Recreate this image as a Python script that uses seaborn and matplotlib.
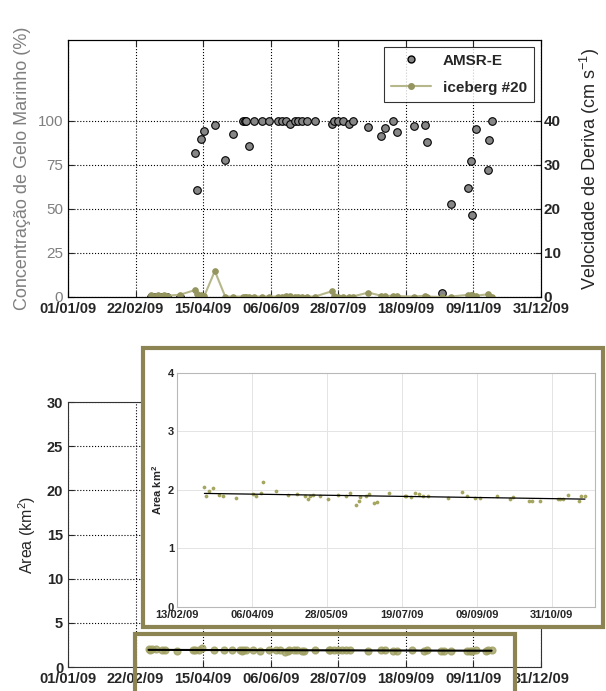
import numpy as np
import pandas as pd
import matplotlib
matplotlib.use('Agg')
import matplotlib.pyplot as plt
import matplotlib.dates as mdates
from matplotlib.patches import Rectangle
from matplotlib.lines import Line2D
import seaborn as sns

sns.set_style('white')
plt.rcParams['font.family'] = ['Liberation Sans', 'DejaVu Sans']
plt.rcParams['mathtext.default'] = 'regular'

# dias contados a partir de 01/01/09
dias = [64, 67, 69, 72, 74, 76, 86, 98, 99, 102, 105, 113, 121, 127, 135, 136, 137,
        139, 143, 149, 155, 162, 165, 168, 171, 175, 177, 180, 184, 190, 203, 205,
        208, 212, 216, 219, 231, 241, 244, 250, 253, 266, 275, 276, 288, 295, 308,
        310, 311, 314, 323, 324, 326]
conc = [0, 0, 0, 0, 0, 0, 0, 82, 61, 90, 94.5, 97.5, 78, 92.5, 100, 100, 100,
        86, 100, 100, 100, 100, 100, 100, 98, 100, 100, 100, 100, 100, 98, 100,
        100, 100, 98, 100, 96.5, 91.5, 96, 100, 94, 97, 97.5, 88, 2.5, 53, 62,
        77, 46.5, 95.5, 72, 89, 100]
vel = [0.5, 0.3, 0.5, 0.3, 0.5, 0.3, 0.5, 1.6, 0.6, 0.5, 0.3, 5.9, 0.1, 0.1, 0.1, 0.1, 0.1,
       0.1, 0.1, 0.1, 0.1, 0.1, 0.1, 0.2, 0.3, 0.1, 0.1, 0.1, 0.1, 0.1, 1.3, 0.2,
       0.1, 0.1, 0.1, 0.1, 1.0, 0.3, 0.2, 0.3, 0.2, 0.1, 0.3, 0.1, 0.0, 0.1, 0.5,
       0.5, 0.4, 0.3, 0.6, 0.2, 0.1]

dias_area = [62, 63, 65, 68, 72, 75, 84, 96, 98, 101, 103, 112, 120, 126, 132, 134, 135,
             137, 142, 148, 155, 160, 163, 167, 169, 170, 174, 176, 180, 182, 190, 201,
             202, 205, 208, 211, 214, 217, 231, 241, 244, 250, 253, 265, 274, 276, 287,
             289, 295, 307, 309, 311, 314, 322, 323, 326]
area = [2.05, 1.89, 1.99, 2.03, 1.91, 1.89, 1.86, 1.93, 1.90, 1.94, 2.14, 1.98, 1.92, 1.93,
        1.90, 1.84, 1.90, 1.91, 1.89, 1.85, 1.91, 1.89, 1.94, 1.75, 1.82, 1.88, 1.90, 1.93,
        1.78, 1.79, 1.94, 1.90, 1.90, 1.88, 1.95, 1.93, 1.89, 1.89, 1.86, 1.96, 1.90, 1.86,
        1.86, 1.90, 1.85, 1.88, 1.82, 1.81, 1.82, 1.85, 1.85, 1.85, 1.91, 1.82, 1.90, 1.89]

x0 = mdates.date2num(pd.Timestamp('2009-01-01'))
ticks_ano = x0 + np.arange(0, 365, 52)
fmt = mdates.DateFormatter('%d/%m/%y')

cinza = '#7f7f7f'
oliva_linha = '#b7b78c'
oliva_ponto = '#959560'
moldura = '#8c8452'

df_top = pd.DataFrame({'data': x0 + np.array(dias), 'conc': conc, 'vel': vel})
df_area = pd.DataFrame({'data': x0 + np.array(dias_area), 'area': area})

fig = plt.figure(figsize=(6.06, 6.91), dpi=100)

# ---- painel de cima: concentracao + velocidade
ax1 = fig.add_axes([0.1122, 0.5702, 0.7805, 0.3719])
sns.scatterplot(data=df_top, x='data', y='conc', ax=ax1, color='#868686',
                edgecolor='black', linewidth=0.8, s=30, legend=False, zorder=3)
ax1.set_xlim(x0, x0 + 364)
ax1.set_ylim(0, 146)
ax1.set_yticks([0, 25, 50, 75, 100])
ax1.set_xticks(ticks_ano)
ax1.xaxis.set_major_formatter(fmt)
ax1.grid(True, linestyle=':', color='black', lw=0.8)
ax1.set_xlabel('')
ax1.set_ylabel('Concentração de Gelo Marinho (%)', color=cinza, fontsize=13, labelpad=5)
ax1.tick_params(axis='y', labelcolor=cinza, labelsize=11, direction='in', length=4, left=True)
ax1.tick_params(axis='x', labelsize=10.5, direction='in', length=4, bottom=True, top=True)
for lbl in ax1.get_xticklabels():
    lbl.set_fontweight('bold')

ax2 = ax1.twinx()
sns.lineplot(data=df_top, x='data', y='vel', ax=ax2, color=oliva_linha, lw=1.5,
             marker='o', markersize=4, markerfacecolor=oliva_ponto,
             markeredgecolor=oliva_ponto, legend=False)
ax2.set_ylim(0, 58.4)
ax2.set_yticks([0, 10, 20, 30, 40])
ax2.set_ylabel('Velocidade de Deriva (cm s$^{-1}$)', fontsize=13, labelpad=12)
ax2.tick_params(axis='y', labelsize=11, direction='in', length=4, right=True, pad=2)
for lbl in ax2.get_yticklabels():
    lbl.set_fontweight('bold')
for ax in (ax1, ax2):
    for sp in ax.spines.values():
        sp.set_color('black')
        sp.set_linewidth(0.8)

handles = [Line2D([], [], ls='none', marker='o', color='#868686', markeredgecolor='black', markersize=5),
           Line2D([], [], color=oliva_linha, lw=1.5, marker='o', markersize=4,
                  markerfacecolor=oliva_ponto, markeredgecolor=oliva_ponto)]
leg = ax2.legend(handles, ['AMSR-E', 'iceberg #20'], loc='upper right', frameon=True,
                 fancybox=False, edgecolor='black', prop={'weight': 'bold', 'size': 11},
                 borderaxespad=0.45, handlelength=2.6, labelspacing=0.85, borderpad=0.45)
leg.get_frame().set_linewidth(0.8)

# ---- painel de baixo: area
ax3 = fig.add_axes([0.1122, 0.0347, 0.7805, 0.3835])
sns.regplot(data=df_area, x='data', y='area', ax=ax3, ci=None,
            scatter_kws=dict(s=24, color='#a1a164', zorder=3),
            line_kws=dict(color='black', lw=1.5, zorder=4))
ax3.set_xlim(x0, x0 + 364)
ax3.set_ylim(0, 30)
ax3.set_yticks(np.arange(0, 31, 5))
ax3.set_xticks(ticks_ano)
ax3.xaxis.set_major_formatter(fmt)
ax3.grid(True, linestyle=':', color='black', lw=0.8)
ax3.set_xlabel('')
ax3.set_ylabel('Area (km$^2$)', fontsize=11.5, labelpad=6)
ax3.tick_params(axis='both', labelsize=10.5, direction='in', length=4, bottom=True, left=True)
for lbl in ax3.get_xticklabels() + ax3.get_yticklabels():
    lbl.set_fontweight('bold')
for sp in ax3.spines.values():
    sp.set_color('#333333')
    sp.set_linewidth(0.8)

# molduras
fig.add_artist(Rectangle((0.236, 0.0926), 0.759, 0.4038, transform=fig.transFigure,
                         facecolor='white', edgecolor=moldura, lw=3, zorder=5))
fig.add_artist(Rectangle((0.2228, -0.02), 0.627, 0.1025, transform=fig.transFigure,
                         fill=False, edgecolor=moldura, lw=3, zorder=5))

# ---- inset (zoom da area)
ax4 = fig.add_axes([0.2921, 0.1216, 0.6898, 0.3386])
ax4.set_zorder(6)
sns.regplot(data=df_area, x='data', y='area', ax=ax4, ci=None, marker='.',
            scatter_kws=dict(s=12, color='#9a9a4c', zorder=3),
            line_kws=dict(color='black', lw=0.9, zorder=4))
ax4.set_xlim(x0 + 43, x0 + 333)
ax4.set_ylim(0, 4)
ax4.set_yticks([0, 1, 2, 3, 4])
ax4.set_xticks(x0 + 43 + 52 * np.arange(6))
ax4.xaxis.set_major_formatter(fmt)
ax4.grid(True, color='#e4e4e4', lw=0.7)
ax4.set_xlabel('')
ax4.set_ylabel('Area km$^2$', fontsize=8, fontweight='bold', labelpad=3)
ax4.tick_params(axis='both', labelsize=8, length=0, pad=2)
for lbl in ax4.get_xticklabels() + ax4.get_yticklabels():
    lbl.set_fontweight('bold')
for sp in ax4.spines.values():
    sp.set_color('#b8b8b8')
    sp.set_linewidth(0.8)

fig.savefig('out.png', dpi=100)
